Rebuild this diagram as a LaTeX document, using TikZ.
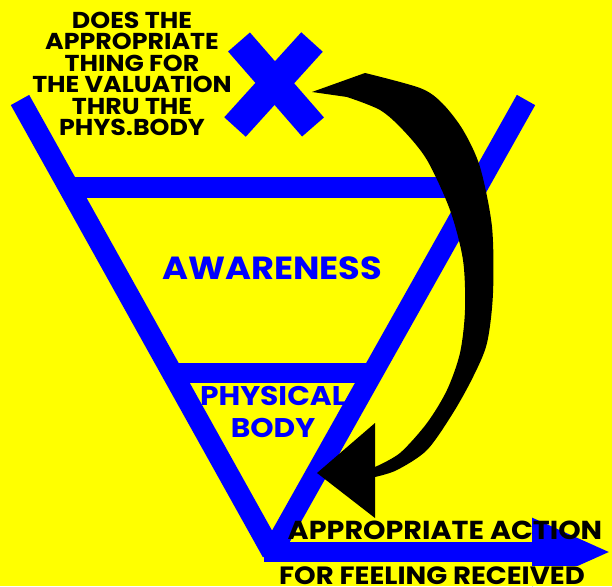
\documentclass[tikz,border=0pt]{standalone}
\usepackage{fontspec}
\setmainfont{Poppins}[FakeStretch=1.1]
\usepackage{xcolor}
\usetikzlibrary{arrows.meta,positioning}
\definecolor{padyellow}{RGB}{255,255,0}
\definecolor{padblue}{RGB}{0,0,255}

\begin{document}
\begin{tikzpicture}[
  x=1pt, y=-1pt,
  bar/.style={draw=padblue, line width=21pt},
  cross/.style={draw=padblue, line width=29pt},
  inlabel/.style={text=padblue, align=center, inner sep=1pt},
  caption/.style={text=black, align=center, inner sep=1pt},
  flow/.style={draw=padblue, line width=20pt, -{Triangle[length=80pt, width=62pt]}}
]
\fill[padyellow] (0,0) rectangle (612,586);
\useasboundingbox (0,0) rectangle (612,586);

\coordinate (vtopL) at (20,100);
\coordinate (apex) at (272,552);
\coordinate (vtopR) at (526,100);
\coordinate (awareL) at (69,187.5);
\coordinate (awareR) at (477,187.5);
\coordinate (bodyL) at (172,373);
\coordinate (bodyR) at (373,373);
\draw[bar, line join=bevel] (vtopL) -- (apex) -- (vtopR);
\draw[bar] (awareL) -- (awareR);
\draw[bar, line width=20pt] (bodyL) -- (bodyR);

\coordinate (xa) at (239,42);
\coordinate (xb) at (313,127);
\coordinate (xc) at (312,42);
\coordinate (xd) at (235,127);
\draw[cross] (xa) -- (xb);
\draw[cross] (xc) -- (xd);

\node[caption, font=\bfseries\fontsize{23}{21.4}\selectfont] (valuation) at (132,74)
  {DOES THE\\APPROPRIATE\\THING FOR\\THE VALUATION\\THRU THE\\PHYS.BODY};
\node[inlabel, font=\bfseries\fontsize{32}{32}\selectfont] (awareness) at (272,268) {AWARENESS};
\node[inlabel, font=\bfseries\fontsize{27}{32}\selectfont] (physical) at (273,412) {PHYSICAL\\BODY};

\coordinate (flowstart) at (264,552);
\coordinate (flowend) at (612,552);
\draw[flow] (flowstart) -- (flowend);

\node[caption, font=\bfseries\fontsize{26}{28}\selectfont] (action) at (445,530) {APPROPRIATE ACTION};
\node[caption, fill=padyellow, font=\bfseries\fontsize{25}{28}\selectfont] (received) at (432,576) {FOR FEELING RECEIVED};

\coordinate (curlstart) at (312,92);
\coordinate (curltip) at (317,473);
\fill[black] (curlstart) -- plot[smooth] coordinates {(365,73) (420,88) (442,103) (463,130)
  (480,167) (492,227) (493,293) (487,343) (473,377) (453,413) (427,450) (397,470) (375,477)}
  -- (375,518) -- (curltip) -- (375,423)
  -- plot[smooth] coordinates {(375,467) (400,453) (427,423) (447,390) (460,353) (465,310)
  (463,260) (450,210) (427,160) (403,130) (380,110) (347,97)} -- cycle;
\end{tikzpicture}
\end{document}
